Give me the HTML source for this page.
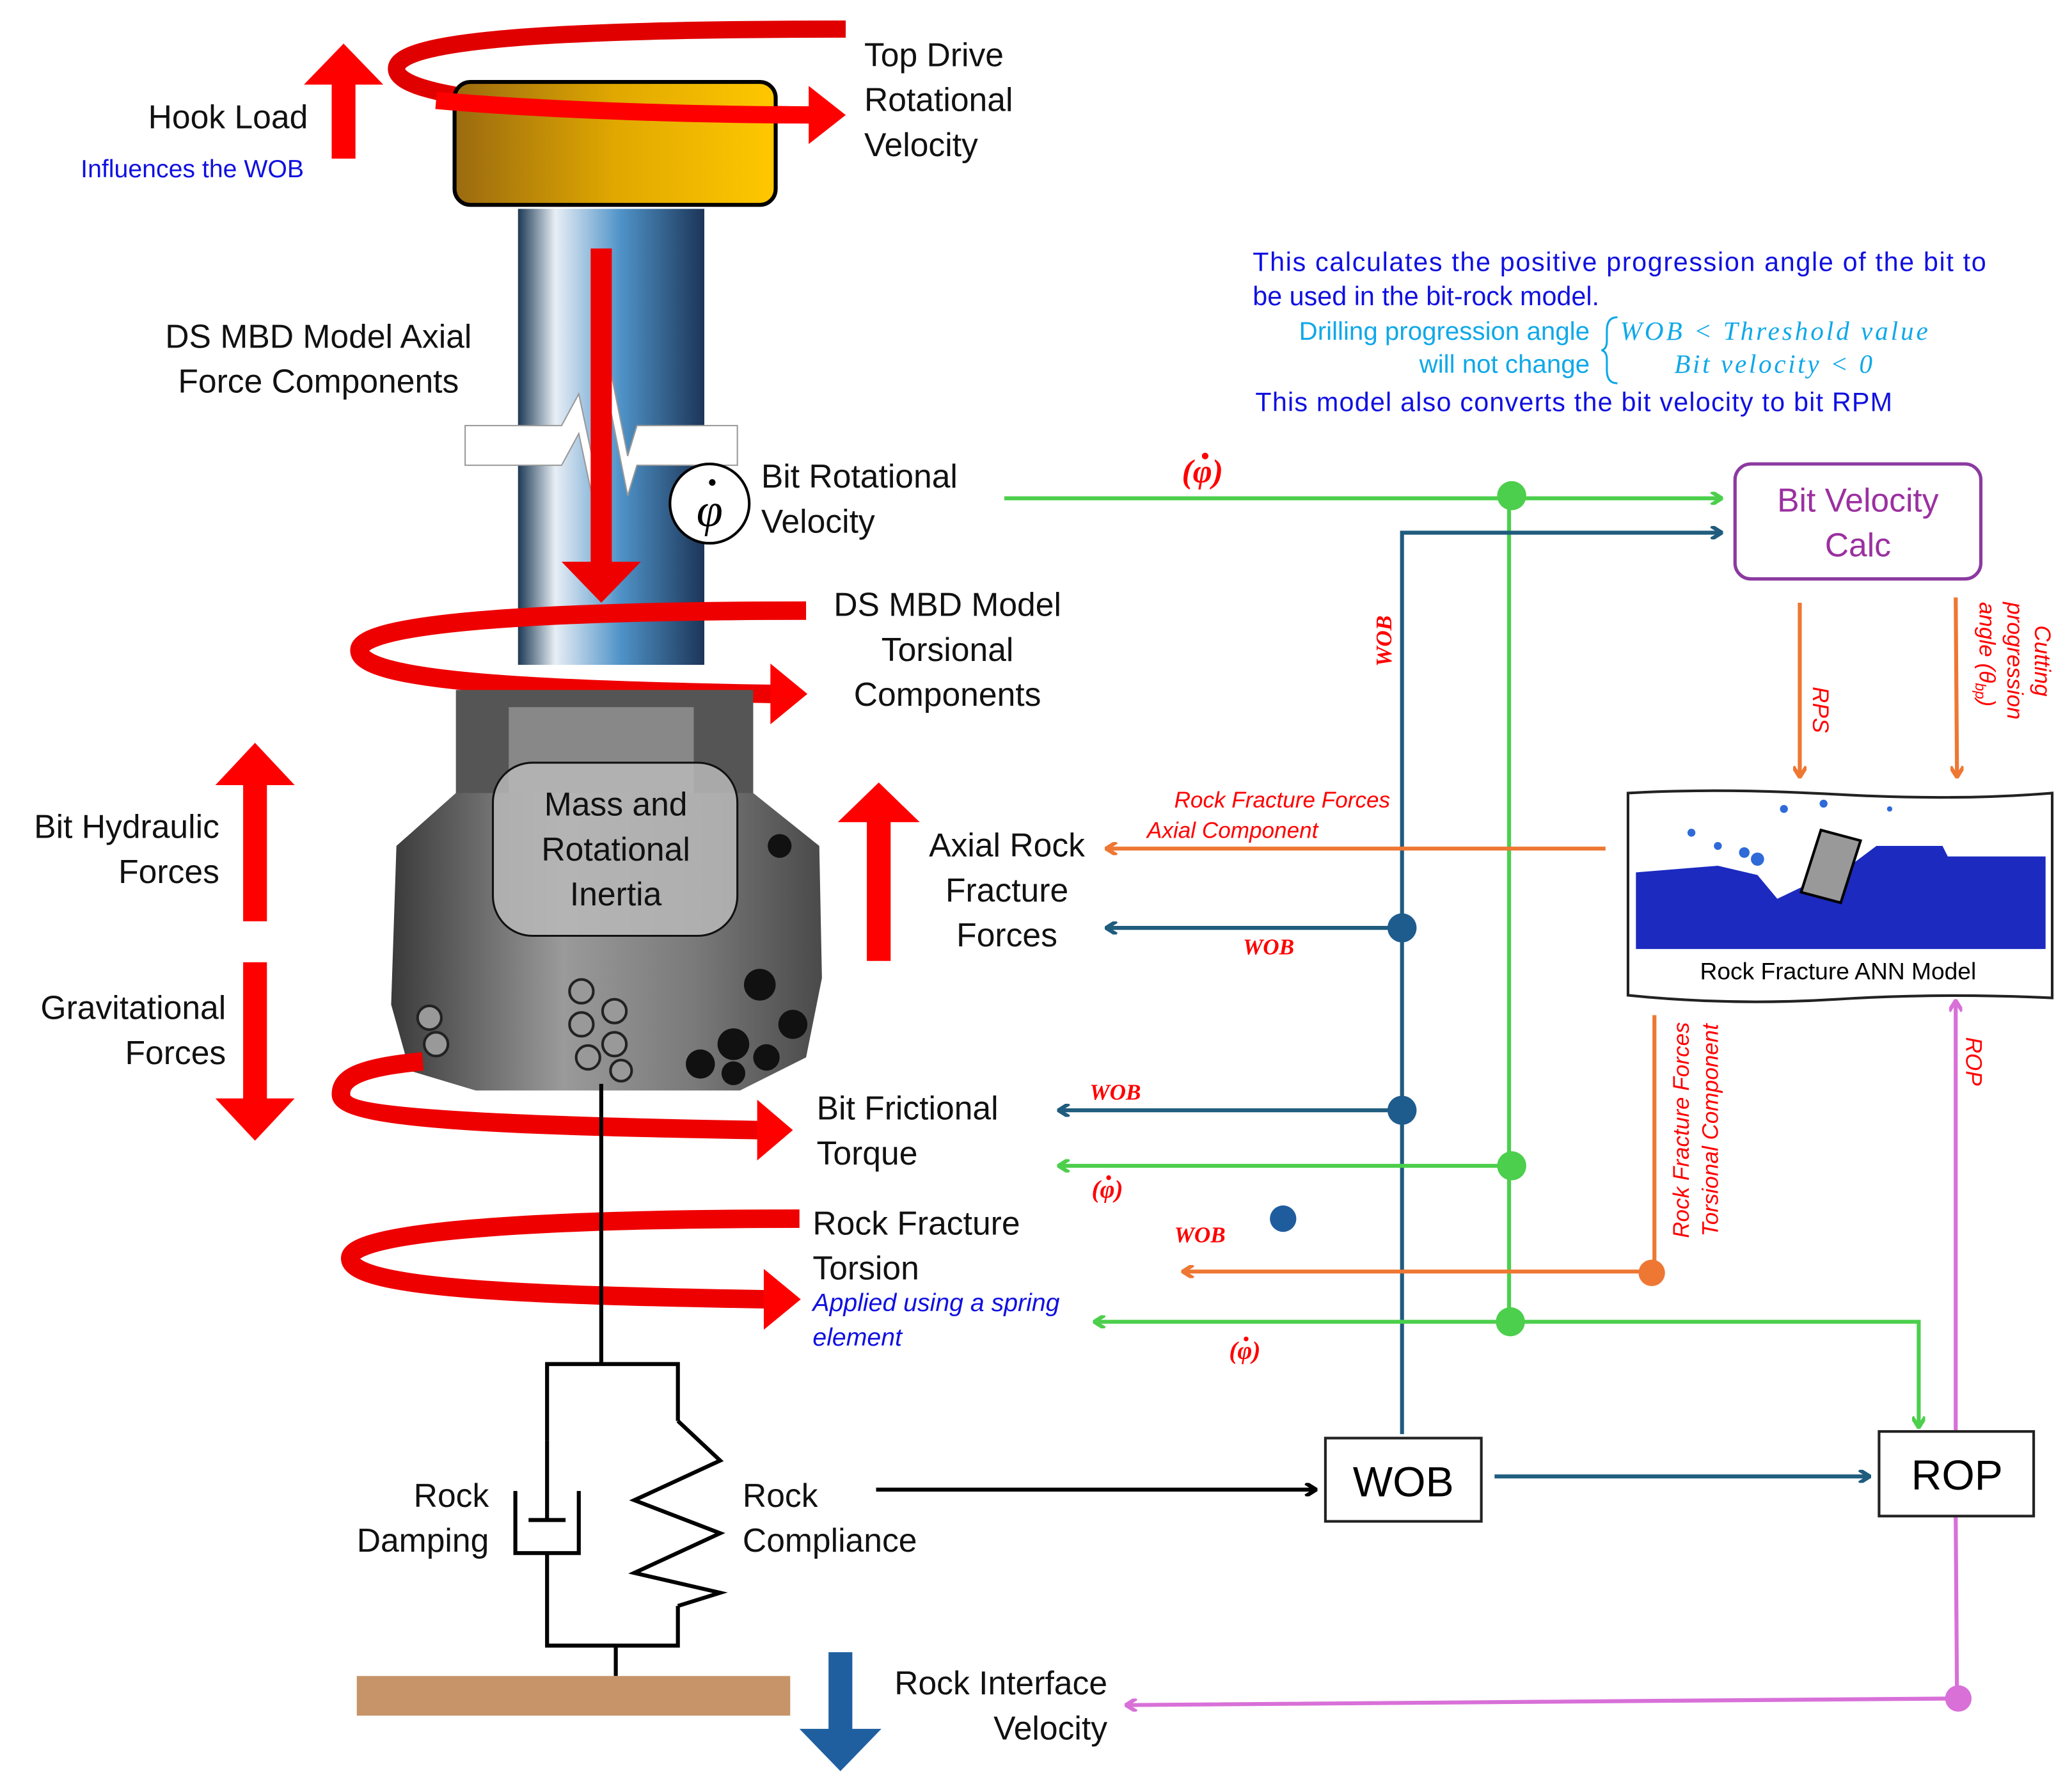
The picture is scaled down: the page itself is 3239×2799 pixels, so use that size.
<!DOCTYPE html>
<html><head><meta charset="utf-8"><style>
html,body{margin:0;padding:0;background:#fff;}
svg{display:block;}
text{font-family:"Liberation Sans",sans-serif;}
.t{font-size:25px;fill:#111;}
.r{fill:#f00;font-style:italic;font-size:17px;}
.w{fill:#f00;font-family:"Liberation Serif",serif;font-style:italic;font-weight:bold;font-size:17px;}
</style></head><body>
<svg width="3239" height="2799" viewBox="0 0 1568 1355" xmlns="http://www.w3.org/2000/svg">
<defs>
<linearGradient id="td" x1="0" x2="1"><stop offset="0" stop-color="#9a6a10"/><stop offset="0.5" stop-color="#e0a800"/><stop offset="1" stop-color="#ffc800"/></linearGradient>
<linearGradient id="pipe" x1="0" x2="1"><stop offset="0" stop-color="#1d3a55"/><stop offset="0.2" stop-color="#e8eef5"/><stop offset="0.55" stop-color="#4f93c8"/><stop offset="1" stop-color="#1c3558"/></linearGradient>
<linearGradient id="bit" x1="0" x2="1"><stop offset="0" stop-color="#3a3a3a"/><stop offset="0.4" stop-color="#9a9a9a"/><stop offset="0.7" stop-color="#7a7a7a"/><stop offset="1" stop-color="#4a4a4a"/></linearGradient>
<marker id="ag" markerWidth="10" markerHeight="10" refX="9" refY="5" orient="auto" markerUnits="userSpaceOnUse"><path d="M1,0 L9,5 L1,10" fill="none" stroke="#4ccf4c" stroke-width="3"/></marker>
<marker id="ab" markerWidth="10" markerHeight="10" refX="9" refY="5" orient="auto" markerUnits="userSpaceOnUse"><path d="M1,0 L9,5 L1,10" fill="none" stroke="#1f5c7e" stroke-width="3"/></marker>
<marker id="ao" markerWidth="10" markerHeight="10" refX="9" refY="5" orient="auto" markerUnits="userSpaceOnUse"><path d="M1,0 L9,5 L1,10" fill="none" stroke="#ee7733" stroke-width="3"/></marker>
<marker id="ap" markerWidth="10" markerHeight="10" refX="9" refY="5" orient="auto" markerUnits="userSpaceOnUse"><path d="M1,0 L9,5 L1,10" fill="none" stroke="#d870d8" stroke-width="3"/></marker>
<marker id="ak" markerWidth="10" markerHeight="10" refX="9" refY="5" orient="auto" markerUnits="userSpaceOnUse"><path d="M1,0 L9,5 L1,10" fill="none" stroke="#000" stroke-width="3"/></marker>
</defs>

<!-- Pipe -->
<rect x="392" y="158" width="141" height="345" fill="url(#pipe)"/>
<path d="M352,322 L425,322 L438,298 L448,345 L462,280 L475,345 L482,322 L558,322 L558,352 L482,352 L475,375 L462,310 L448,375 L438,328 L425,352 L352,352 Z" fill="#fff" stroke="#999" stroke-width="1"/>
<path d="M640,22 C420,22 300,30 300,52 C300,75 420,85 615,87" fill="none" stroke="#e00000" stroke-width="13"/>
<rect x="344" y="62" width="243" height="93" rx="12" fill="url(#td)" stroke="#000" stroke-width="3"/>
<path d="M330,76 C420,84 540,87 615,87" fill="none" stroke="#f00" stroke-width="13"/>
<polygon points="612,65 640,87 612,109" fill="#f00"/>
<rect x="251" y="62" width="18" height="58" fill="#f00"/><polygon points="230,64 260,33 290,64" fill="#f00"/>
<rect x="447" y="188" width="16" height="240" fill="#e00"/><polygon points="425,425 485,425 455,456" fill="#e00"/>
<circle cx="537" cy="381" r="30" fill="#fff" stroke="#000" stroke-width="2"/>
<text x="537" y="398" text-anchor="middle" style="font-family:'Liberation Serif',serif;font-style:italic;font-size:36px">φ</text>
<circle cx="539" cy="365" r="2.5" fill="#000"/>

<path d="M610,462 C400,462 272,472 272,492 C272,515 400,522 585,525" fill="none" stroke="#e00" stroke-width="14"/>
<polygon points="583,502 611,525 583,548" fill="#f00"/>

<!-- bit -->
<rect x="345" y="522" width="225" height="90" fill="#555"/>
<rect x="385" y="535" width="140" height="80" fill="#888"/>
<path d="M345,600 L300,640 L296,760 L310,810 L360,825 L560,825 L610,800 L622,740 L620,640 L570,600 Z" fill="url(#bit)"/>
<g fill="#111"><circle cx="590" cy="640" r="9"/><circle cx="575" cy="745" r="12"/><circle cx="600" cy="775" r="11"/><circle cx="555" cy="790" r="12"/><circle cx="580" cy="800" r="10"/><circle cx="530" cy="805" r="11"/><circle cx="555" cy="812" r="9"/></g>
<g fill="#999" stroke="#222" stroke-width="2"><circle cx="325" cy="770" r="9"/><circle cx="330" cy="790" r="9"/><circle cx="440" cy="750" r="9"/><circle cx="440" cy="775" r="9"/><circle cx="465" cy="765" r="9"/><circle cx="465" cy="790" r="9"/><circle cx="445" cy="800" r="9"/><circle cx="470" cy="810" r="8"/></g>
<rect x="373" y="577" width="185" height="131" rx="30" fill="#b8b8b8" fill-opacity="0.85" stroke="#111" stroke-width="1.5"/>
<text class="t" text-anchor="middle" x="466" y="617">Mass and</text>
<text class="t" text-anchor="middle" x="466" y="651">Rotational</text>
<text class="t" text-anchor="middle" x="466" y="685">Inertia</text>

<rect x="184" y="592" width="18" height="105" fill="#f00"/><polygon points="163,594 193,562 223,594" fill="#f00"/>
<rect x="184" y="728" width="18" height="105" fill="#f00"/><polygon points="163,831 193,863 223,831" fill="#f00"/>
<rect x="656" y="620" width="18" height="107" fill="#f00"/><polygon points="634,622 665,592 696,622" fill="#f00"/>

<path d="M320,803 C265,808 258,818 258,828 C258,848 400,852 575,855" fill="none" stroke="#e00" stroke-width="14"/>
<polygon points="573,832 600,855 573,878" fill="#f00"/>
<path d="M605,922 C400,922 265,932 265,952 C265,975 400,980 580,983" fill="none" stroke="#e00" stroke-width="14"/>
<polygon points="578,960 606,983 578,1006" fill="#f00"/>

<g stroke="#000" stroke-width="3" fill="none">
<line x1="455" y1="820" x2="455" y2="1032"/>
<polyline points="414,1090 414,1032 513,1032 513,1075"/>
<polyline points="414,1175 414,1245 513,1245 513,1215"/>
<polyline points="513,1075 545,1105 480,1135 545,1160 480,1190 545,1205 513,1215"/>
<polyline points="390,1128 390,1175 438,1175 438,1128"/>
<line x1="400" y1="1150" x2="428" y2="1150"/><line x1="414" y1="1090" x2="414" y2="1150"/>
<line x1="466" y1="1245" x2="466" y2="1268"/>
</g>
<rect x="270" y="1268" width="328" height="30" fill="#c69468"/>
<rect x="627" y="1250" width="18" height="60" fill="#1f5fa0"/><polygon points="605,1308 636,1340 667,1308" fill="#1f5fa0"/>

<text class="t" x="233" y="97" text-anchor="end">Hook Load</text>
<text x="230" y="134" text-anchor="end" style="font-size:19px;fill:#1010e0">Influences the WOB</text>
<text class="t" x="654" y="50">Top Drive</text><text class="t" x="654" y="84">Rotational</text><text class="t" x="654" y="118">Velocity</text>
<text class="t" x="241" y="263" text-anchor="middle">DS MBD Model Axial</text><text class="t" x="241" y="297" text-anchor="middle">Force Components</text>
<text class="t" x="576" y="369">Bit Rotational</text><text class="t" x="576" y="403">Velocity</text>
<text class="t" x="717" y="466" text-anchor="middle">DS MBD Model</text><text class="t" x="717" y="500" text-anchor="middle">Torsional</text><text class="t" x="717" y="534" text-anchor="middle">Components</text>
<text class="t" x="166" y="634" text-anchor="end">Bit Hydraulic</text><text class="t" x="166" y="668" text-anchor="end">Forces</text>
<text class="t" x="171" y="771" text-anchor="end">Gravitational</text><text class="t" x="171" y="805" text-anchor="end">Forces</text>
<text class="t" x="762" y="648" text-anchor="middle">Axial Rock</text><text class="t" x="762" y="682" text-anchor="middle">Fracture</text><text class="t" x="762" y="716" text-anchor="middle">Forces</text>
<text class="t" x="618" y="847">Bit Frictional</text><text class="t" x="618" y="881">Torque</text>
<text class="t" x="615" y="934">Rock Fracture</text><text class="t" x="615" y="968">Torsion</text>
<text x="615" y="992" style="font-size:19px;font-style:italic;fill:#1010e0">Applied using a spring</text>
<text x="615" y="1018" style="font-size:19px;font-style:italic;fill:#1010e0">element</text>
<text class="t" x="370" y="1140" text-anchor="end">Rock</text><text class="t" x="370" y="1174" text-anchor="end">Damping</text>
<text class="t" x="562" y="1140">Rock</text><text class="t" x="562" y="1174">Compliance</text>
<text class="t" x="838" y="1282" text-anchor="end">Rock Interface</text><text class="t" x="838" y="1316" text-anchor="end">Velocity</text>

<text x="948" y="205" style="font-size:20px;fill:#1010e0" textLength="555">This calculates the positive progression angle of the bit to</text>
<text x="948" y="231" style="font-size:20px;fill:#1010e0">be used in the bit-rock model.</text>
<text x="1203" y="257" text-anchor="end" style="font-size:19.5px;fill:#10a8e8">Drilling progression angle</text>
<text x="1203" y="282" text-anchor="end" style="font-size:19.5px;fill:#10a8e8">will not change</text>
<path d="M1224,240 Q1216,240 1216,250 L1216,258 Q1216,264 1212,265 Q1216,266 1216,272 L1216,280 Q1216,290 1224,290" fill="none" stroke="#10a8e8" stroke-width="1.5"/>
<text x="1226" y="257" style="font-family:'Liberation Serif',serif;font-style:italic;font-size:20px;fill:#10a8e8" textLength="233">WOB &lt; Threshold value</text>
<text x="1267" y="282" style="font-family:'Liberation Serif',serif;font-style:italic;font-size:20px;fill:#10a8e8" textLength="150">Bit velocity &lt; 0</text>
<text x="950" y="311" style="font-size:20px;fill:#1010e0" textLength="482">This model also converts the bit velocity to bit RPM</text>

<g fill="none" stroke-width="3">
<line x1="760" y1="377" x2="1303" y2="377" stroke="#4ccf4c" marker-end="url(#ag)"/>
<line x1="1142" y1="377" x2="1142" y2="1000" stroke="#4ccf4c"/>
<polyline points="1061,1085 1061,403 1303,403" stroke="#1f5c7e" marker-end="url(#ab)"/>
<line x1="1061" y1="702" x2="837" y2="702" stroke="#1f5c7e" marker-end="url(#ab)"/>
<line x1="1061" y1="840" x2="801" y2="840" stroke="#1f5c7e" marker-end="url(#ab)"/>
<line x1="1215" y1="642" x2="837" y2="642" stroke="#ee7733" marker-end="url(#ao)"/>
<line x1="1142" y1="882" x2="801" y2="882" stroke="#4ccf4c" marker-end="url(#ag)"/>
<polyline points="1252,768 1252,962 895,962" stroke="#ee7733" marker-end="url(#ao)"/>
<line x1="1142" y1="1000" x2="828" y2="1000" stroke="#4ccf4c" marker-end="url(#ag)"/>
<polyline points="1142,1000 1452,1000 1452,1080" stroke="#4ccf4c" marker-end="url(#ag)"/>
<line x1="1362" y1="456" x2="1362" y2="588" stroke="#ee7733" marker-end="url(#ao)"/>
<line x1="1480" y1="452" x2="1481" y2="588" stroke="#ee7733" marker-end="url(#ao)"/>
<line x1="1480" y1="1082" x2="1480" y2="757" stroke="#d870d8" marker-end="url(#ap)"/>
<polyline points="1480,1148 1481,1285 852,1290" stroke="#d870d8" marker-end="url(#ap)"/>
<line x1="663" y1="1127" x2="996" y2="1127" stroke="#000" marker-end="url(#ak)"/>
<line x1="1131" y1="1117" x2="1415" y2="1117" stroke="#1f5c7e" marker-end="url(#ab)"/>
</g>
<circle cx="1144" cy="375" r="11" fill="#4ccf4c"/>
<circle cx="1061" cy="702" r="11" fill="#1f5c8e"/>
<circle cx="1061" cy="840" r="11" fill="#1f5c8e"/>
<circle cx="1144" cy="882" r="11" fill="#4ccf4c"/>
<circle cx="971" cy="922" r="10" fill="#1f5c9e"/>
<circle cx="1250" cy="963" r="10" fill="#ee7733"/>
<circle cx="1143" cy="1000" r="11" fill="#4ccf4c"/>
<circle cx="1482" cy="1285" r="10" fill="#d870d8"/>

<rect x="1313" y="351" width="186" height="87" rx="12" fill="#fff" stroke="#8b3aa0" stroke-width="2.5"/>
<text x="1406" y="387" text-anchor="middle" style="font-size:25px;fill:#9b30a0">Bit Velocity</text>
<text x="1406" y="421" text-anchor="middle" style="font-size:25px;fill:#9b30a0">Calc</text>
<rect x="1003" y="1088" width="118" height="63" fill="#fff" stroke="#222" stroke-width="2"/>
<text x="1062" y="1132" text-anchor="middle" style="font-size:32px">WOB</text>
<rect x="1422" y="1083" width="117" height="64" fill="#fff" stroke="#222" stroke-width="2"/>
<text x="1481" y="1127" text-anchor="middle" style="font-size:32px">ROP</text>

<path d="M1232,600 Q1300,596 1390,601 T1553,600 L1553,755 Q1470,751 1390,756 T1232,753 Z" fill="#fff" stroke="#222" stroke-width="2"/>
<path d="M1238,660 L1300,655 L1330,662 L1345,680 L1370,668 L1400,655 L1420,640 L1470,640 L1480,660 L1450,678 L1420,670 L1430,648 L1548,648 L1548,718 L1238,718 Z" fill="#1c2ac0"/>
<g fill="#2e6ad8"><circle cx="1280" cy="630" r="3"/><circle cx="1300" cy="640" r="3"/><circle cx="1320" cy="645" r="4"/><circle cx="1350" cy="612" r="3"/><circle cx="1380" cy="608" r="3"/><circle cx="1330" cy="650" r="5"/><circle cx="1430" cy="612" r="2"/></g>
<polygon points="1378,628 1408,636 1393,683 1363,675" fill="#999" stroke="#000" stroke-width="2"/>
<text x="1391" y="741" text-anchor="middle" style="font-size:18px">Rock Fracture ANN Model</text>

<text x="910" y="365" text-anchor="middle" style="font-family:'Liberation Serif',serif;font-style:italic;font-weight:bold;font-size:25px;fill:#f00">(φ)</text>
<circle cx="912" cy="345" r="2.5" fill="#f00"/>
<text class="w" transform="translate(1053,485) rotate(-90)" text-anchor="middle">WOB</text>
<text class="r" x="1052" y="611" text-anchor="end">Rock Fracture Forces</text>
<text class="r" x="868" y="634">Axial Component</text>
<text class="w" x="960" y="722" text-anchor="middle">WOB</text>
<text class="w" x="844" y="832" text-anchor="middle">WOB</text>
<text class="w" x="838" y="906" text-anchor="middle" style="font-size:19px">(φ)</text><circle cx="839" cy="891" r="1.8" fill="#f00"/>
<text class="w" x="908" y="940" text-anchor="middle">WOB</text>
<text class="w" x="942" y="1028" text-anchor="middle" style="font-size:19px">(φ)</text><circle cx="943" cy="1013" r="1.8" fill="#f00"/>
<text class="r" transform="translate(1372,537) rotate(90)" text-anchor="middle">RPS</text>
<text class="r" transform="translate(1540,500) rotate(90)" text-anchor="middle">Cutting</text>
<text class="r" transform="translate(1519,500) rotate(90)" text-anchor="middle">progression</text>
<text class="r" transform="translate(1498,495) rotate(90)" text-anchor="middle">angle (θ<tspan font-size="11" dy="3">bp</tspan><tspan dy="-3">)</tspan></text>
<text class="r" transform="translate(1278,855) rotate(-90)" text-anchor="middle">Rock Fracture Forces</text>
<text class="r" transform="translate(1300,855) rotate(-90)" text-anchor="middle">Torsional Component</text>
<text class="r" transform="translate(1488,803) rotate(90)" text-anchor="middle">ROP</text>
</svg>
</body></html>
